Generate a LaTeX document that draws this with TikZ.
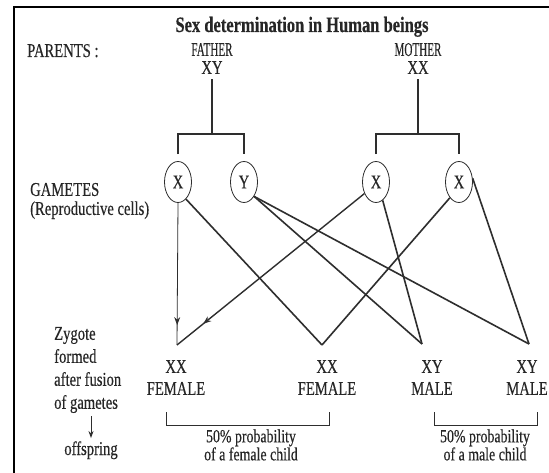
\documentclass[tikz,border=0pt]{standalone}
\usepackage{graphicx}
\usepackage{fontspec}
\setmainfont{Liberation Serif}[FakeStretch=0.75,FakeBold=0.35]
\usetikzlibrary{shapes.geometric,arrows.meta,decorations.markings}
\definecolor{ink}{HTML}{262626}
\definecolor{wire}{HTML}{2E2E2E}
\newcommand{\narrowword}[1]{\scalebox{0.76}[1]{#1}}
\begin{document}
\begin{tikzpicture}[x=1pt,y=-1pt,
  lbl/.style={inner sep=0pt, text=ink, font=\fontsize{19.5}{22}\selectfont},
  stack/.style={lbl, align=center, font=\fontsize{19.5}{#1}\selectfont},
  lstack/.style={lbl, align=left, anchor=west, font=\fontsize{19.5}{#1}\selectfont},
  small/.style={lbl, align=center, font=\fontsize{18.5}{17}\selectfont},
  headline/.style={inner sep=0pt, anchor=base, text=ink, font=\bfseries\fontsize{22}{26}\selectfont},
  gamete/.style={ellipse, draw=wire, line width=0.8pt, minimum width=27pt, minimum height=41pt,
    inner sep=0pt, text=ink, font=\fontsize{19.5}{22}\selectfont},
  stem/.style={draw=wire, line width=1.1pt},
  cross/.style={draw=wire, line width=1.6pt},
  feed/.style={draw=wire, line width=#1, postaction=decorate,
    decoration={markings, mark=at position 0.86 with {\arrow{Stealth[length=8pt,width=6pt]}}}},
  brace/.style={draw=wire, line width=1pt}
]
\useasboundingbox (0,0) rectangle (549,473);
\fill[white] (0,0) rectangle (549,473);

% frame (top and left edges)
\draw[line width=2.6pt, black] (549,7) -- (14,7) -- (14,473);

% title
\node[headline] (title) at (302,32) {Sex determination in Human beings};

% parents
\node[lbl, anchor=base west] (parents) at (27,57) {PARENTS :};
\node[stack=18] (father) at (212,58.5) {\narrowword{FATHER}\\XY};
\node[stack=18] (mother) at (418,58.5) {\narrowword{MOTHER}\\XX};

% gametes
\node[gamete] (g1) at (178,182) {X};
\node[gamete] (g2) at (244,182) {Y};
\node[gamete] (g3) at (376,182) {X};
\node[gamete] (g4) at (459,182) {X};
\node[lstack=19] (gam) at (30,201) {GAMETES\\(Reproductive cells)};

% splitting of each parent into two gametes
\coordinate (fj) at (212,134);
\coordinate (mj) at (418,134);
\draw[stem, shorten <=5pt] (father.south) -- (fj);
\draw[stem, shorten <=7pt, shorten >=7pt] (g1.north) |- (fj) -| (g2.north);
\draw[stem, shorten <=5pt] (mother.south) -- (mj);
\draw[stem, shorten <=7pt, shorten >=7pt] (g3.north) |- (mj) -| (g4.north);

% zygotes
\coordinate (z1) at (177,345);
\coordinate (z2) at (322,345);
\coordinate (z3) at (422,344);
\coordinate (z4) at (529,344);
\node[stack=22] (f1) at (176,377.5) {XX\\FEMALE};
\node[stack=22] (f2) at (327,377.5) {XX\\FEMALE};
\node[stack=22] (m1) at (432,377.5) {XY\\MALE};
\node[stack=22] (m2) at (527,377.5) {XY\\MALE};

% fusion of gametes
\draw[feed=0.8pt] (g1.south) -- (z1);
\draw[feed=1.4pt] (g3.-135) -- (z1);
\draw[cross] (g1.-65) -- (z2);
\draw[cross] (g4.-120) -- (z2);
\draw[cross] (g2.-55) -- (z3);
\draw[cross] (g3.-70) -- (z3);
\draw[cross] (g2.-55) -- (z4);
\draw[cross] (g4.15) -- (z4);

% probability brackets
\coordinate (bf1) at (166,412);
\coordinate (bf2) at (329,412);
\coordinate (bm1) at (434,412);
\coordinate (bm2) at (537,412);
\draw[brace] (bf1) -- ++(0,13) -| (bf2);
\draw[brace] (bm1) -- ++(0,13) -| (bm2);
\node[small] (pf) at (251,445) {50\% probability\\of a female child};
\node[small] (pm) at (485,445) {50\% probability\\of a male child};

% left-hand legend for the zygote row
\node[lstack=23] (zyg) at (54,370) {Zygote\\formed\\after fusion\\of gametes};
\node[lbl, anchor=base] (off) at (91,455) {offspring};
\draw[draw=wire, line width=0.9pt, -{Stealth[length=7pt,width=5pt]}, shorten <=3pt, shorten >=3pt]
  (off.north |- zyg.south) -- (off.north);
\end{tikzpicture}
\end{document}
